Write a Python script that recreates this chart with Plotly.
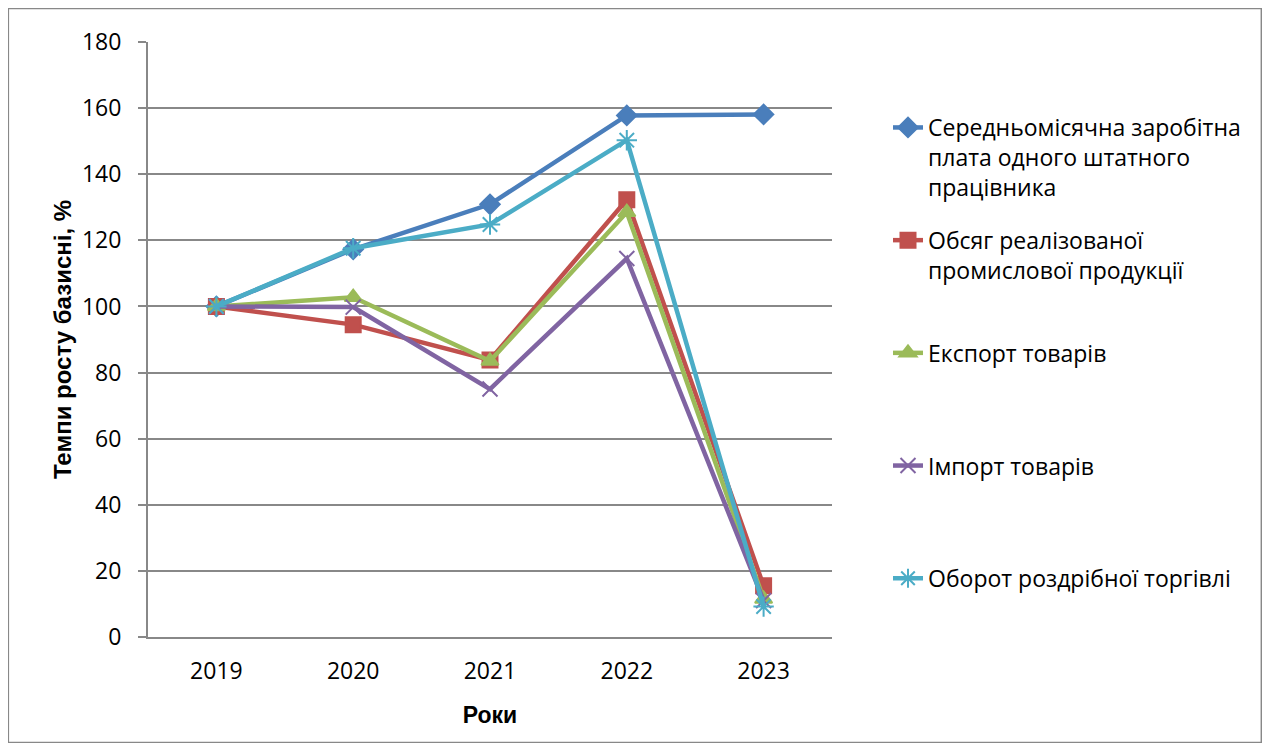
import plotly.graph_objects as go

years = ["2019", "2020", "2021", "2022", "2023"]
salary = [100, 117.3, 130.9, 157.8, 158.1]
industry = [100, 94.5, 83.8, 132.3, 15.5]
exports = [100, 102.8, 83.5, 128.5, 11.5]
imports = [100, 99.8, 75.0, 114.5, 11.0]
retail = [100, 117.6, 124.8, 150.3, 9.2]

names = [
    "Середньомісячна заробітна<br>плата одного штатного<br>працівника",
    "Обсяг реалізованої<br>промислової продукції<br> ",
    "Експорт товарів<br> <br> ",
    "Імпорт товарів<br> <br> ",
    "Оборот роздрібної торгівлі<br> <br> ",
]
series = [salary, industry, exports, imports, retail]
colors = ["#4A7EBB", "#C0504D", "#9BBB59", "#8064A2", "#4BACC6"]
symbols = ["diamond", "square", "triangle-up", "x-thin-open", "asterisk-open"]
msizes = [15, 15, 15, 15, 17]

fig = go.Figure()
for i, (name, vals, c, s, ms) in enumerate(zip(names, series, colors, symbols, msizes)):
    fig.add_trace(go.Scatter(
        x=years, y=vals, name=name, mode="lines+markers", legendgroup="g%d" % i,
        line=dict(color=c, width=4.5),
        marker=dict(symbol=s, size=ms, color=c, line=dict(color=c, width=2)),
    ))

# page has an 8px body margin; figure sized to fit window
OFF = 8
W, H = 1270 - 2 * OFF, 751 - 2 * OFF
L, T = 148 - OFF, 42 - OFF
R = W - (832 - OFF)
B = H - (637 - OFF)
pw, ph = W - L - R, H - T - B

fig.update_layout(
    width=W, height=H,
    margin=dict(l=L, r=R, t=T, b=B),
    paper_bgcolor="white", plot_bgcolor="white",
    font=dict(family="Open Sans", size=23, color="black"),
    showlegend=True,
    legend=dict(
        x=(888 - OFF - L) / pw, xanchor="left",
        y=(T + ph - (106 - OFF)) / ph, yanchor="top",
        valign="top", tracegroupgap=20,
        font=dict(family="Open Sans", size=23, color="black"),
        bgcolor="rgba(0,0,0,0)",
    ),
    xaxis=dict(
        type="category", range=[-0.5, 4.5],
        showgrid=False, showline=True, linecolor="#888888", linewidth=2,
        ticks="", tickfont=dict(size=23), ticklabelstandoff=12,
        title=dict(text="<b>Роки</b>", font=dict(family="Liberation Sans", size=23), standoff=22),
    ),
    yaxis=dict(
        range=[0, 180], dtick=20, tick0=0,
        showgrid=True, gridcolor="#888888", gridwidth=2,
        showline=True, linecolor="#888888", linewidth=2,
        ticks="outside", ticklen=8, tickcolor="#888888", tickwidth=2,
        ticklabelstandoff=12, tickfont=dict(size=23),
        zeroline=False,
        title=dict(text="<b>Темпи росту базисні, %</b>", font=dict(family="Liberation Sans", size=24), standoff=4),
    ),
    shapes=[dict(
        type="rect", xref="paper", yref="paper",
        x0=-L / pw + 0.0005, x1=(W - L) / pw - 0.001,
        y0=-B / ph + 0.001, y1=(ph + T) / ph - 0.001,
        line=dict(color="#888888", width=1.5), fillcolor="rgba(0,0,0,0)",
    )],
)

fig.write_html("out.html")
